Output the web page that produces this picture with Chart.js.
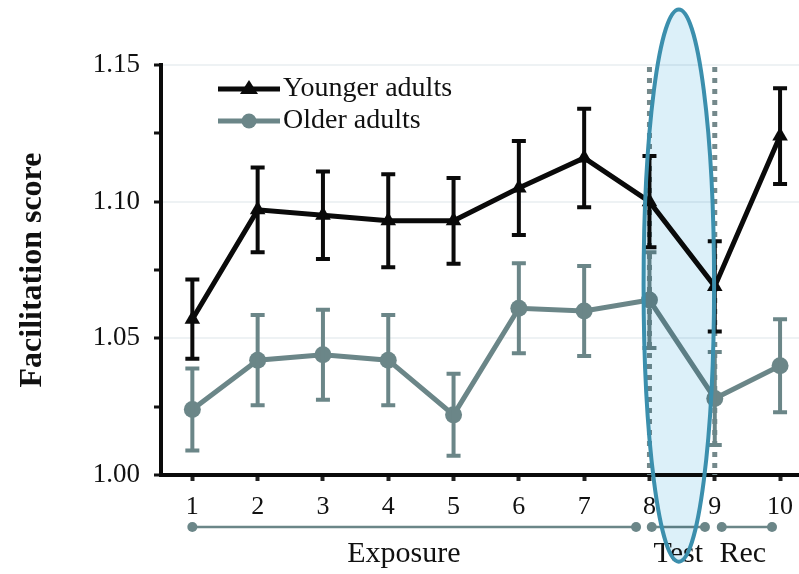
<!DOCTYPE html>
<html lang="en">
<head>
<meta charset="UTF-8">
<title>Facilitation score</title>
<script src="https://cdn.jsdelivr.net/npm/chart.js"></script>
<style>
    body { margin: 0; background: #fff; }
    .wrap { width: 799px; height: 574px; position: relative; }
</style>
</head>
<body>
<div class="wrap"><canvas id="chart"></canvas></div>
<script>
// Blocks (x positions) and tick labels
const blocks = [1, 2, 3, 4, 5, 6, 7, 8, 9, 10];
const yTicksMajor = [1.00, 1.05, 1.10, 1.15];

// Series values
const younger    = [1.057, 1.097, 1.095, 1.093, 1.093, 1.105, 1.116, 1.100, 1.069, 1.124];
const youngerErr = [0.0145, 0.0155, 0.016, 0.017, 0.0157, 0.0172, 0.018, 0.0167, 0.0165, 0.0175];
const older      = [1.024, 1.042, 1.044, 1.042, 1.022, 1.061, 1.060, 1.064, 1.028, 1.040];
const olderErr   = [0.015, 0.0165, 0.0165, 0.0165, 0.015, 0.0165, 0.0165, 0.0175, 0.017, 0.017];

// Phases under the x axis (in block units)
const phaseNames  = ['Exposure', 'Test', 'Rec'];
const phaseStart  = [1, 8.035, 9.107];
const phaseEnd    = [7.795, 8.85, 9.877];
const phaseLabelX = [4.24, 8.44, 9.43];

// Dotted separators around the test phase
const testBounds = [8, 9];

const BLACK = '#0a0a0a';
const GREY = '#6b8688';
const FONT = "'Liberation Serif', 'Times New Roman', serif";

const overlay = {
    id: 'overlay',
    beforeDatasetsDraw(chart) {
        const { ctx, chartArea, scales: { x } } = chart;
        ctx.save();
        ctx.strokeStyle = '#74898b';
        ctx.lineWidth = 5;
        ctx.setLineDash([5, 6]);
        testBounds.forEach(v => {
            const px = x.getPixelForValue(v);
            ctx.beginPath();
            ctx.moveTo(px, chartArea.top + 2);
            ctx.lineTo(px, chartArea.bottom);
            ctx.stroke();
        });
        ctx.restore();
    },
    afterDatasetDraw(chart, args) {
        // error bars for this dataset
        const { ctx, scales: { x, y } } = chart;
        const ds = chart.data.datasets[args.index];
        ctx.save();
        ctx.strokeStyle = ds.borderColor;
        ctx.lineWidth = 4;
        ds.data.forEach((p, i) => {
            const px = x.getPixelForValue(p.x);
            const top = y.getPixelForValue(p.y + ds.errors[i]);
            const bot = y.getPixelForValue(p.y - ds.errors[i]);
            ctx.beginPath();
            ctx.moveTo(px, top); ctx.lineTo(px, bot);
            ctx.moveTo(px - 7, top); ctx.lineTo(px + 7, top);
            ctx.moveTo(px - 7, bot); ctx.lineTo(px + 7, bot);
            ctx.stroke();
        });
        ctx.restore();
    },
    afterDraw(chart) {
        const { ctx, chartArea, scales: { x, y } } = chart;
        ctx.save();

        // legend inside the plot
        chart.data.datasets.forEach((ds, i) => {
            const ly = chartArea.top + 24 + i * 32;
            const lx = chartArea.left + 57;
            ctx.strokeStyle = ds.borderColor;
            ctx.fillStyle = ds.borderColor;
            ctx.lineWidth = 5;
            ctx.beginPath();
            ctx.moveTo(lx, ly); ctx.lineTo(lx + 62, ly);
            ctx.stroke();
            ctx.beginPath();
            if (ds.pointStyle === 'triangle') {
                ctx.moveTo(lx + 31, ly - 9); ctx.lineTo(lx + 40, ly + 5); ctx.lineTo(lx + 22, ly + 5);
                ctx.closePath();
            } else {
                ctx.arc(lx + 31, ly, 7.5, 0, Math.PI * 2);
            }
            ctx.fill();
            ctx.fillStyle = '#111';
            ctx.font = '28px ' + FONT;
            ctx.textBaseline = 'middle';
            ctx.fillText(ds.label, lx + 65, ly);
        });

        // phase lines under the axis
        const py = chartArea.bottom + 52;
        ctx.strokeStyle = GREY;
        ctx.fillStyle = GREY;
        ctx.lineWidth = 2.5;
        phaseNames.forEach((name, i) => {
            const a = x.getPixelForValue(phaseStart[i]);
            const b = x.getPixelForValue(phaseEnd[i]);
            ctx.beginPath();
            ctx.moveTo(a, py); ctx.lineTo(b, py);
            ctx.stroke();
            [a, b].forEach(px => {
                ctx.beginPath();
                ctx.arc(px, py, 5, 0, Math.PI * 2);
                ctx.fill();
            });
        });
        ctx.fillStyle = '#111';
        ctx.font = '30px ' + FONT;
        ctx.textAlign = 'center';
        ctx.textBaseline = 'middle';
        phaseNames.forEach((name, i) => {
            ctx.fillText(name, x.getPixelForValue(phaseLabelX[i]), py + 27);
        });

        // highlight ellipse over the test phase (multiply keeps the lines dark)
        const cx = x.getPixelForValue(8.45);
        const rx = x.getPixelForValue(8.45 + 0.54) - cx;
        const yTop = y.getPixelForValue(1.1703);
        const yBot = y.getPixelForValue(0.9683);
        ctx.beginPath();
        ctx.ellipse(cx, (yTop + yBot) / 2, rx, (yBot - yTop) / 2, 0, 0, Math.PI * 2);
        ctx.globalCompositeOperation = 'multiply';
        ctx.fillStyle = '#dcf0f9';
        ctx.fill();
        ctx.globalCompositeOperation = 'source-over';
        ctx.strokeStyle = '#3b8fad';
        ctx.lineWidth = 4;
        ctx.stroke();

        ctx.restore();
    }
};

const isMajor = v => Math.round(v * 1000) % 50 === 0;

new Chart(document.getElementById('chart'), {
    type: 'line',
    data: {
        datasets: [
            {
                label: 'Younger adults',
                data: blocks.map((b, i) => ({ x: b, y: younger[i] })),
                errors: youngerErr,
                borderColor: BLACK,
                backgroundColor: BLACK,
                borderWidth: 5,
                pointStyle: 'triangle',
                pointRadius: 9,
                pointBorderWidth: 0,
                tension: 0
            },
            {
                label: 'Older adults',
                data: blocks.map((b, i) => ({ x: b, y: older[i] })),
                errors: olderErr,
                borderColor: GREY,
                backgroundColor: GREY,
                borderWidth: 5,
                pointStyle: 'circle',
                pointRadius: 8.5,
                pointBorderWidth: 0,
                tension: 0
            }
        ]
    },
    options: {
        responsive: true,
        maintainAspectRatio: false,
        animation: false,
        layout: { autoPadding: false, padding: { top: 65, right: 0, left: 0, bottom: 0 } },
        plugins: { legend: { display: false }, tooltip: { enabled: false } },
        scales: {
            x: {
                type: 'linear',
                min: 0.52,
                max: 10.29,
                afterBuildTicks: s => { s.ticks = blocks.map(v => ({ value: v })); },
                afterFit: s => { s.height = 99; s.paddingLeft = 0; s.paddingRight = 0; },
                grid: { drawOnChartArea: false, tickLength: 6, tickColor: '#222', tickWidth: 4 },
                border: { color: BLACK, width: 4 },
                ticks: { color: '#111', font: { family: FONT, size: 26 }, padding: 11, maxRotation: 0 }
            },
            y: {
                min: 1.0,
                max: 1.15,
                afterBuildTicks: s => {
                    const t = [];
                    for (let i = 0; i < yTicksMajor.length; i++) {
                        t.push({ value: yTicksMajor[i] });
                        if (i < yTicksMajor.length - 1) t.push({ value: yTicksMajor[i] + 0.025 });
                    }
                    s.ticks = t;
                },
                afterFit: s => { s.width = 161; s.paddingTop = 0; s.paddingBottom = 0; },
                grid: {
                    color: c => (c.tick && isMajor(c.tick.value) && c.tick.value > 1.001) ? '#eef2f4' : 'rgba(0,0,0,0)',
                    lineWidth: 2,
                    tickLength: 7,
                    tickColor: '#111',
                    tickWidth: 3
                },
                border: { color: BLACK, width: 4 },
                ticks: {
                    color: '#111',
                    font: { family: FONT, size: 27 },
                    padding: 14,
                    callback: v => isMajor(v) ? v.toFixed(2) : ''
                },
                title: {
                    display: true,
                    text: 'Facilitation score',
                    color: '#111',
                    font: { family: FONT, size: 32, weight: 'bold' },
                    padding: { top: 14, bottom: 0 }
                }
            }
        }
    },
    plugins: [overlay]
});
</script>
</body>
</html>
